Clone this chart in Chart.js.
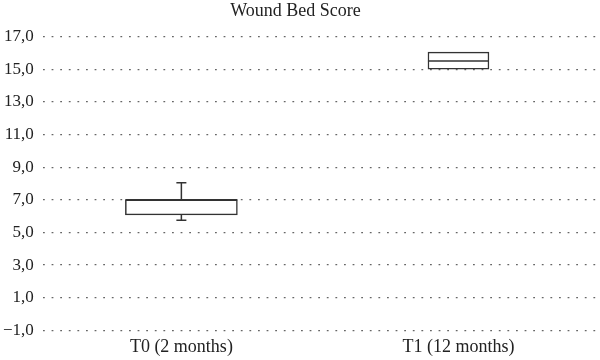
<!DOCTYPE html>
<html lang="en">

<head>
    <meta charset="UTF-8">
    <title>Wound Bed Score</title>
    <script src="https://cdn.jsdelivr.net/npm/chart.js"></script>
    <style>
        body {
            margin: 0;
            background: #fff;
        }

        #wrap {
            width: 600px;
            height: 360px;
        }
    </style>
</head>

<body>
    <div id="wrap"><canvas id="boxChart"></canvas></div>

    <script>
        const categories = ["T0 (2 months)", "T1 (12 months)"];
        const q1 = [6.08, 15.0];
        const median = [7.0, 15.5];
        const q3 = [7.0, 16.05];
        const whiskerLow = [5.75, 15.0];
        const whiskerHigh = [8.05, 16.05];
        const boxWidths = [112, 61];

        const serif = "'Liberation Serif', 'DejaVu Serif', serif";

        // whiskers and median lines, placed from the bar elements and y scale
        const whiskerPlugin = {
            id: "whiskers",
            afterDatasetsDraw(chart) {
                const ctx = chart.ctx;
                const y = chart.scales.y;
                ctx.save();
                ctx.strokeStyle = "#333";
                ctx.lineWidth = 1.5;
                categories.forEach((c, i) => {
                    const bar = chart.getDatasetMeta(i).data[i];
                    const cx = bar.x;
                    const half = bar.width / 2;
                    const m = y.getPixelForValue(median[i]);
                    ctx.beginPath();
                    ctx.moveTo(cx - half, m);
                    ctx.lineTo(cx + half, m);
                    ctx.stroke();
                    [[q3[i], whiskerHigh[i]], [q1[i], whiskerLow[i]]].forEach(([from, to]) => {
                        if (from === to) return;
                        const a = y.getPixelForValue(from);
                        const b = y.getPixelForValue(to);
                        ctx.beginPath();
                        ctx.moveTo(cx, a);
                        ctx.lineTo(cx, b);
                        ctx.moveTo(cx - 5, b);
                        ctx.lineTo(cx + 5, b);
                        ctx.stroke();
                    });
                });
                ctx.restore();
            }
        };

        const datasets = categories.map((c, i) => ({
            label: c,
            data: categories.map((_, j) => (j === i ? [q1[i], q3[i]] : null)),
            backgroundColor: "#fff",
            borderColor: "#333",
            borderWidth: 1.5,
            borderSkipped: false,
            barThickness: boxWidths[i],
            grouped: false
        }));

        new Chart(document.getElementById("boxChart"), {
            type: "bar",
            data: { labels: categories, datasets: datasets },
            plugins: [whiskerPlugin],
            options: {
                responsive: true,
                maintainAspectRatio: false,
                animation: false,
                layout: { padding: { left: -6, right: 3, top: 0, bottom: -4 } },
                plugins: {
                    legend: { display: false },
                    tooltip: { enabled: false },
                    title: {
                        display: true,
                        text: "Wound Bed Score",
                        color: "#222",
                        font: { family: serif, size: 18, weight: "normal" },
                        padding: { top: 0, bottom: 15 }
                    }
                },
                scales: {
                    x: {
                        offset: true,
                        grid: { display: false, drawTicks: false },
                        border: { display: false },
                        ticks: {
                            color: "#222",
                            padding: 6,
                            font: { family: serif, size: 18 }
                        }
                    },
                    y: {
                        min: -1,
                        max: 17,
                        ticks: {
                            stepSize: 2,
                            color: "#222",
                            padding: 9,
                            font: { family: serif, size: 17 },
                            callback: v => v.toFixed(1).replace(".", ",").replace("-", "\u2212")
                        },
                        grid: {
                            color: "#666",
                            lineWidth: 1.3,
                            drawTicks: false
                        },
                        border: { display: false, dash: [1.8, 6.8] }
                    }
                }
            }
        });
    </script>
</body>

</html>
